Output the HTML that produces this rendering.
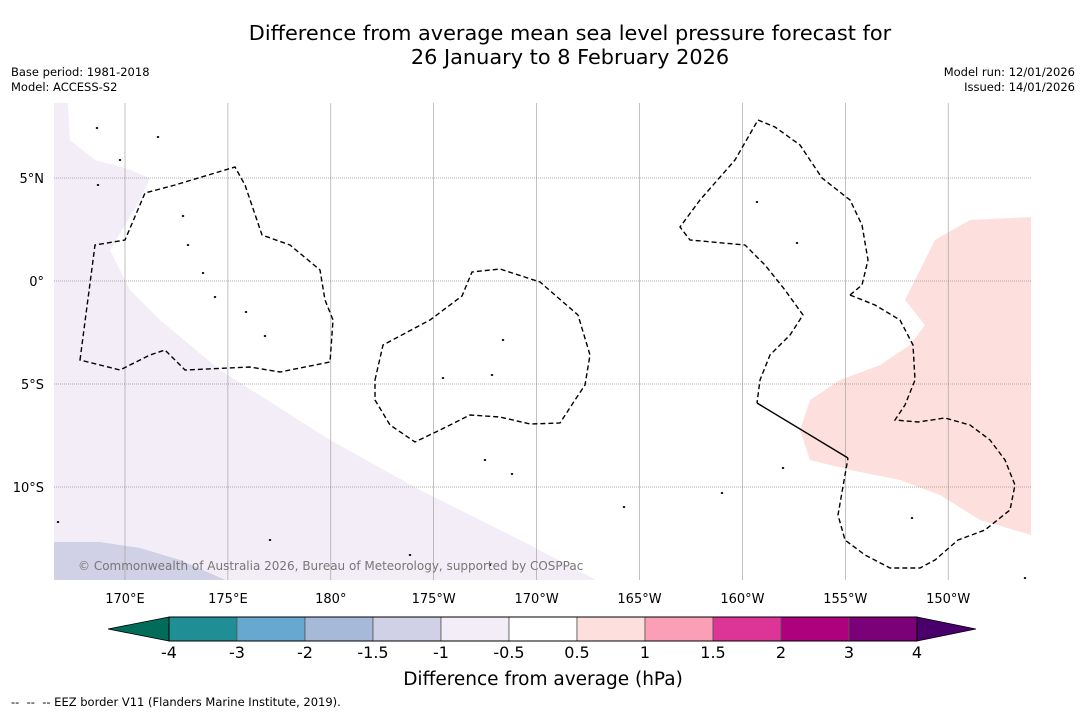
<!DOCTYPE html>
<html><head><meta charset="utf-8"><style>
body{margin:0;background:#fff;font-family:"DejaVu Sans","Liberation Sans",sans-serif;}
#wrap{position:relative;width:1085px;height:713px;overflow:hidden;background:#fff}
.t{position:absolute;white-space:nowrap;color:#000}
</style></head><body>
<div id="wrap">
<div class="t" style="left:0;width:1140px;top:21px;text-align:center;font-size:20.85px;line-height:24px">Difference from average mean sea level pressure forecast for<br>26 January to 8 February 2026</div>
<div class="t" style="left:11px;top:65px;font-size:11.5px;line-height:15px">Base period: 1981-2018<br>Model: ACCESS-S2</div>
<div class="t" style="right:10px;top:65px;font-size:11.5px;line-height:15px;text-align:right">Model run: 12/01/2026<br>Issued: 14/01/2026</div>
<div class="t" style="left:11px;top:695px;font-size:11.5px">--&nbsp; --&nbsp; -- EEZ border V11 (Flanders Marine Institute, 2019).</div>
<svg id="map" width="1085" height="713" style="position:absolute;left:0;top:0"></svg>
</div>
<script>
const lonTicks=[170,175,180,185,190,195,200,205,210];
const lonLabels=["170°E","175°E","180°","175°W","170°W","165°W","160°W","155°W","150°W"];
const latTicks=[5,0,-5,-10];
const latLabels=["5°N","0°","5°S","10°S"];
const cbBounds=[-4,-3,-2,-1.5,-1,-0.5,0.5,1,1.5,2,3,4];
const cbLabels=["-4","-3","-2","-1.5","-1","-0.5","0.5","1","1.5","2","3","4"];
const cbColors=["#1f8f95","#66a8cf","#a6b9d9","#d0d1e6","#f2edf6","#ffffff","#fde0dd","#fa9fb5","#dd3497","#ae017e","#7a0177"];
const NS="http://www.w3.org/2000/svg";
const svg=document.getElementById('map');
const X=lon=>125+(lon-170)*20.58, Y=lat=>281-lat*20.6;
function mk(t,a,p){const e=document.createElementNS(NS,t);for(const k in a)e.setAttribute(k,a[k]);(p||svg).appendChild(e);return e;}
const mx0=54,mx1=1031,my0=103,my1=580;
const g=mk('g',{});


const cp=mk('clipPath',{id:'cp'},g);mk('rect',{x:mx0,y:my0,width:mx1-mx0,height:my1-my0},cp);
const inner=mk('g',{'clip-path':'url(#cp)'},g);
function poly(pts,attrs,name){const e=mk('path',Object.assign({d:'M'+pts.map(p=>p.join(',')).join('L')+'Z'},attrs),inner);return e;}
poly([[54,103],[68,103],[70,140],[95,160],[125,168],[150,178],[140,200],[110,250],[130,290],[160,320],[220,370],[330,440],[420,490],[520,540],[600,582],[54,582]],{fill:'#f2edf6'},'negative-anomaly-region');
poly([[54,542],[100,542],[140,548],[180,560],[230,582],[54,582]],{fill:'#d0d1e6'},'negative-anomaly-region-strong');
poly([[1031,217],[970,220],[935,240],[920,270],[905,300],[925,325],[910,345],[880,365],[840,380],[810,400],[800,430],[810,460],[850,470],[900,480],[940,495],[980,520],[1031,535]],{fill:'#fde0dd'},'positive-anomaly-region');
lonTicks.forEach(l=>{const e=mk('line',{x1:X(l),x2:X(l),y1:my0,y2:my1,stroke:'#999','stroke-width':0.6},inner);});
latTicks.forEach(l=>{const e=mk('line',{x1:mx0,x2:mx1,y1:Y(l),y2:Y(l),stroke:'#666','stroke-width':0.6,'stroke-dasharray':'1,1'},inner);});
function dash(pts,name,closed){const e=mk('path',{d:'M'+pts.map(p=>p.join(',')).join('L')+(closed?'Z':''),fill:'none',stroke:'#000','stroke-width':1.4,'stroke-dasharray':'5,3'},inner);}
dash([[80,360],[95,245],[125,240],[145,193],[175,185],[235,167],[245,185],[262,235],[290,245],[320,270],[325,300],[333,320],[330,362],[280,372],[250,367],[185,370],[165,350],[150,355],[120,370],[80,360]],'eez-border-west',true);
dash([[375,380],[383,345],[430,320],[462,296],[472,272],[500,269],[540,282],[578,315],[590,355],[585,385],[575,400],[560,423],[530,424],[500,417],[470,415],[440,430],[415,442],[390,425],[375,400]],'eez-border-central',true);
dash([[850,295],[862,285],[868,260],[862,225],[850,200],[822,178],[800,145],[775,127],[758,120],[735,160],[700,200],[680,227],[690,240],[745,245],[765,265],[785,290],[803,315],[790,335],[770,355],[760,380],[757,403]],'eez-border-east');
dash([[850,295],[875,305],[900,320],[913,345],[915,380],[905,405],[895,420],[918,422],[945,418],[970,425],[990,440],[1005,460],[1015,485],[1010,510],[985,530],[958,540],[935,560],[920,568],[890,568],[865,555],[845,540],[838,515],[848,458]],'eez-border-southeast');
const sl=mk('line',{x1:757,y1:403,x2:848,y2:458,stroke:'#000','stroke-width':1.4},inner);
[[97,128],[158,137],[183,216],[188,245],[203,273],[215,297],[246,312],[265,336],[503,340],[492,375],[443,378],[485,460],[512,474],[722,493],[783,468],[757,202],[797,243],[58,522],[270,540],[410,555],[490,565],[1025,578],[120,160],[98,185],[624,507],[912,518]].forEach(p=>{const e=mk('ellipse',{cx:p[0],cy:p[1],rx:1.3,ry:1,fill:'#000'},inner);});
const cr=mk('text',{x:78,y:570,'font-size':12,fill:'#777','font-family':'DejaVu Sans,Liberation Sans,sans-serif'},g);cr.textContent='© Commonwealth of Australia 2026, Bureau of Meteorology, supported by COSPPac';

lonTicks.forEach((l,i)=>{const e=mk('text',{x:X(l),y:603,'text-anchor':'middle','font-size':13,'font-family':'DejaVu Sans,sans-serif'});e.textContent=lonLabels[i];});
latTicks.forEach((l,i)=>{const e=mk('text',{x:44,y:Y(l)+5,'text-anchor':'end','font-size':13,'font-family':'DejaVu Sans,sans-serif'});e.textContent=latLabels[i];});
const cb=mk('g',{});


const cx0=169,seg=68,cy0=617,cy1=641;
const CX=i=>cx0+i*seg;
const lt=mk('path',{d:`M${cx0},${cy0}L108,629L${cx0},${cy1}Z`,fill:'#016c59',stroke:'#000','stroke-width':0.8},cb);
const rt=mk('path',{d:`M${CX(11)},${cy0}L976,629L${CX(11)},${cy1}Z`,fill:'#49006a',stroke:'#000','stroke-width':0.8},cb);
cbColors.forEach((c,i)=>{const e=mk('rect',{x:CX(i),y:cy0,width:seg,height:cy1-cy0,fill:c,stroke:'#555','stroke-width':0.8},cb);});
mk('rect',{x:cx0,y:cy0,width:seg*11,height:cy1-cy0,fill:'none',stroke:'#000','stroke-width':1},cb);
cbLabels.forEach((s,i)=>{const e=mk('text',{x:CX(i),y:658,'text-anchor':'middle','font-size':16,'font-family':'DejaVu Sans,sans-serif'},cb);e.textContent=s;});
const ct=mk('text',{x:543,y:685,'text-anchor':'middle','font-size':18.5,'font-family':'DejaVu Sans,sans-serif'},cb);ct.textContent='Difference from average (hPa)';

</script>
</body></html>
